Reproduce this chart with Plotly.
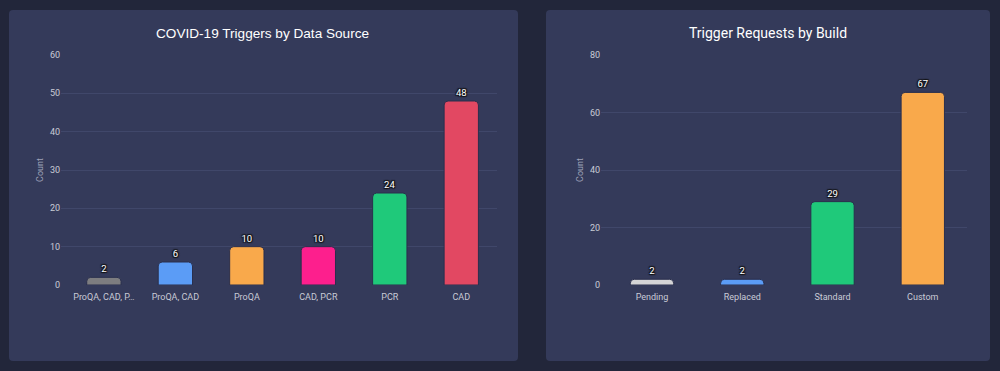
import plotly.graph_objects as go

W, H = 1000, 371

# Left chart data
src_categories = ["ProQA, CAD, PCR", "ProQA, CAD", "ProQA", "CAD, PCR", "PCR", "CAD"]
src_ticklabels = ["ProQA, CAD, P…", "ProQA, CAD", "ProQA", "CAD, PCR", "PCR", "CAD"]
src_counts = [2, 6, 10, 10, 24, 48]
src_colors = ["#7d7d80", "#5b9cf6", "#f9a94b", "#fd1f8d", "#1fc97a", "#e24862"]

# Right chart data
build_categories = ["Pending", "Replaced", "Standard", "Custom"]
build_counts = [2, 2, 29, 67]
build_colors = ["#d4d4d6", "#5b9cf6", "#1fc97a", "#f9a94b"]

BG = "#22263a"
PANEL = "#343a5a"
GRID = "#40476a"
TICK = "#c9cbd6"


def px(x):
    return x / W


def py(y):
    return 1 - y / H


def rounded_rect(x0, y0, x1, y1, r):
    pts = [
        f"M {px(x0 + r)} {py(y0)}",
        f"L {px(x1 - r)} {py(y0)}",
        f"Q {px(x1)} {py(y0)} {px(x1)} {py(y0 + r)}",
        f"L {px(x1)} {py(y1 - r)}",
        f"Q {px(x1)} {py(y1)} {px(x1 - r)} {py(y1)}",
        f"L {px(x0 + r)} {py(y1)}",
        f"Q {px(x0)} {py(y1)} {px(x0)} {py(y1 - r)}",
        f"L {px(x0)} {py(y0 + r)}",
        f"Q {px(x0)} {py(y0)} {px(x0 + r)} {py(y0)}",
        "Z",
    ]
    return " ".join(pts)


fig = go.Figure()

text_font = dict(family="Roboto, Arial, sans-serif", size=9.5, color="#ffffff",
                 shadow="1px 1px 1px #111, -1px -1px 1px #111, 1px -1px 1px #111, -1px 1px 1px #111")

fig.add_trace(go.Bar(
    x=src_categories, y=src_counts, xaxis="x", yaxis="y",
    marker=dict(color=src_colors, line=dict(color="#2a2f4d", width=1), cornerradius=4),
    text=[str(v) for v in src_counts], textposition="outside", textfont=text_font,
    cliponaxis=False, width=0.48, hoverinfo="x+y",
))
fig.add_trace(go.Bar(
    x=build_categories, y=build_counts, xaxis="x2", yaxis="y2",
    marker=dict(color=build_colors, line=dict(color="#2a2f4d", width=1), cornerradius=4),
    text=[str(v) for v in build_counts], textposition="outside", textfont=text_font,
    cliponaxis=False, width=0.48, hoverinfo="x+y",
))

y0p, y1p = py(285), py(55)

axis_common = dict(
    showline=False, zeroline=False, ticks="",
    tickfont=dict(family="Roboto, Arial, sans-serif", size=9, color=TICK),
)

fig.update_layout(
    width=W, height=H,
    margin=dict(l=0, r=0, t=0, b=0, pad=0, autoexpand=False),
    paper_bgcolor=BG, plot_bgcolor="rgba(0,0,0,0)",
    showlegend=False,
    font=dict(family="Roboto, Arial, sans-serif", color=TICK),
    xaxis=dict(domain=[px(61), px(497)], anchor="y", showgrid=False,
               range=[-0.6, 5.5],
               tickvals=src_categories, ticktext=src_ticklabels,
               ticklabelstandoff=5, **axis_common),
    yaxis=dict(domain=[y0p, y1p], anchor="x", range=[0, 60], dtick=10,
               showgrid=True, gridcolor=GRID, gridwidth=1,
               title=dict(text="Count", standoff=4,
                          font=dict(size=9, color="#9ea2b8")),
               **axis_common),
    xaxis2=dict(domain=[px(601), px(967)], anchor="y2", showgrid=False,
                range=[-0.565, 3.49],
                ticklabelstandoff=5, **axis_common),
    yaxis2=dict(domain=[y0p, y1p], anchor="x2", range=[0, 80], dtick=20,
                showgrid=True, gridcolor=GRID, gridwidth=1,
                title=dict(text="Count", standoff=4,
                           font=dict(size=9, color="#9ea2b8")),
                **axis_common),
    shapes=[
        dict(type="path", xref="paper", yref="paper", path=rounded_rect(9, 10, 518, 361, 4),
             fillcolor=PANEL, line=dict(width=0), layer="below"),
        dict(type="path", xref="paper", yref="paper", path=rounded_rect(546, 10, 990, 361, 4),
             fillcolor=PANEL, line=dict(width=0), layer="below"),
    ],
    annotations=[
        dict(text="COVID-19 Triggers by Data Source", xref="paper", yref="paper",
             x=px(262), y=py(33), showarrow=False, xanchor="center", yanchor="middle",
             font=dict(family="Liberation Sans, Arial, sans-serif", size=13.6, color="#ffffff")),
        dict(text="Trigger Requests by Build", xref="paper", yref="paper",
             x=px(768), y=py(33), showarrow=False, xanchor="center", yanchor="middle",
             font=dict(family="Roboto, Arial, sans-serif", size=14, color="#ffffff")),
    ],
)

fig.write_html(
    "out.html",
    config={"displayModeBar": False},
    post_script="document.body.style.margin='0';document.body.style.background='" + BG + "';",
)
